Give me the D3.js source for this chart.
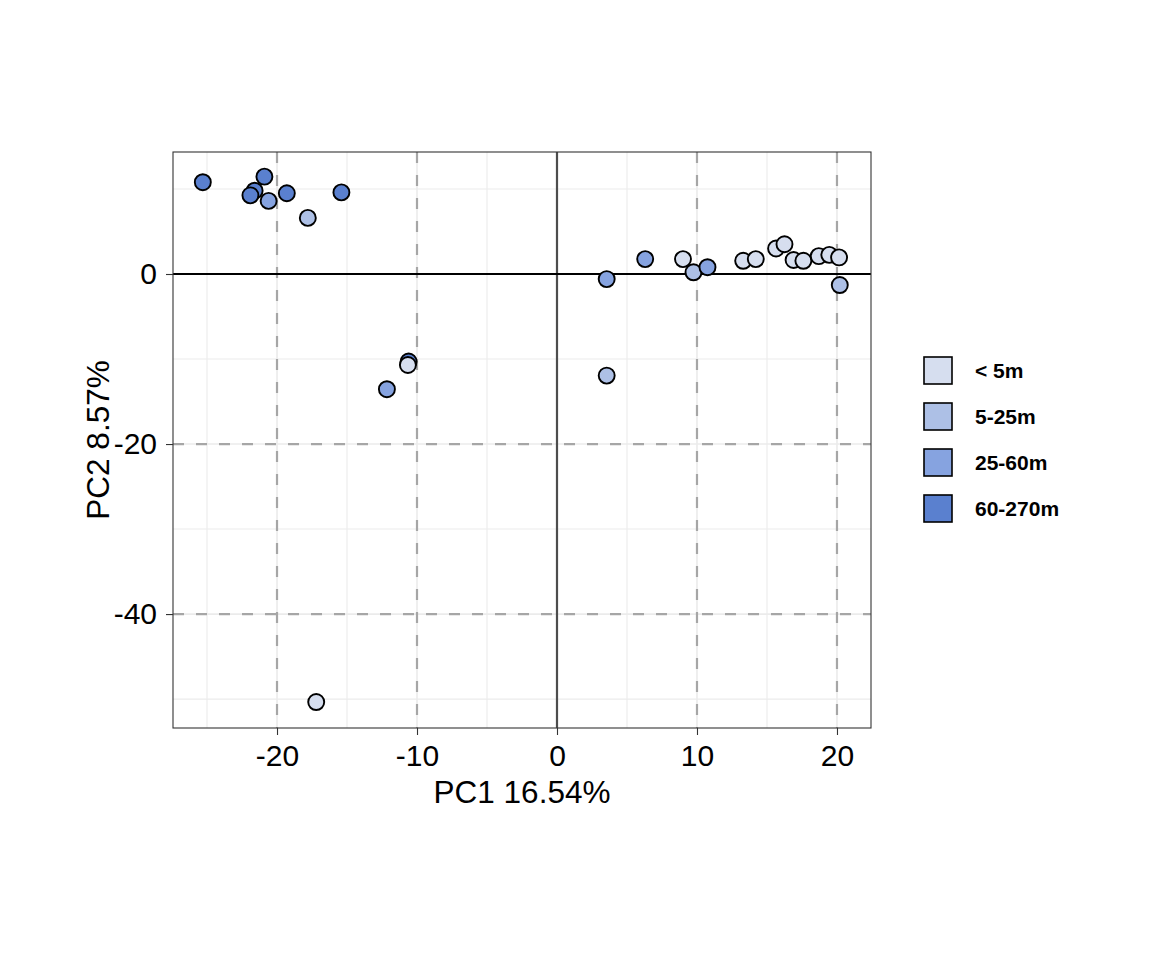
<!DOCTYPE html>
<html>
<head>
<meta charset="utf-8">
<script src="https://cdn.jsdelivr.net/npm/d3@7"></script>
<style>
  body { margin: 0; background: #fff; }
  svg { font-family: "Liberation Sans", Arial, sans-serif; }
</style>
</head>
<body>
<div id="chart"></div>
<script>
// data
const groups = ['< 5m', '5-25m', '25-60m', '60-270m'];
const groupColors = ['#d6deef', '#adc0e6', '#86a3e0', '#5a80cf'];

const pc1 = [-25.3, -20.9, -21.6, -21.9, -20.6, -19.3, -17.8, -15.4,
  3.55, 6.3, 9.0, 9.75, 10.75, 13.3, 14.2, 15.65, 16.25, 16.9, 17.6, 18.7, 19.45, 20.15, 20.2,
  -10.6, -10.65, -12.15, 3.55, -17.2];
const pc2 = [10.8, 11.45, 9.8, 9.25, 8.6, 9.5, 6.6, 9.6,
  -0.6, 1.75, 1.75, 0.2, 0.8, 1.55, 1.75, 3.0, 3.5, 1.65, 1.55, 2.1, 2.25, 1.95, -1.3,
  -10.3, -10.7, -13.55, -11.95, -50.35];
const depth = ['60-270m', '60-270m', '60-270m', '60-270m', '25-60m', '60-270m', '5-25m', '60-270m',
  '25-60m', '25-60m', '< 5m', '5-25m', '25-60m', '< 5m', '< 5m', '< 5m', '< 5m', '< 5m', '< 5m', '< 5m', '< 5m', '< 5m', '5-25m',
  '60-270m', '< 5m', '25-60m', '5-25m', '< 5m'];

const xMajor = [-20, -10, 0, 10, 20];
const xMinor = [-25, -15, -5, 5, 15];
const yMajor = [0, -20, -40];
const yMinor = [10, -10, -30, -50];

const option = {
  width: 1152,
  height: 960,
  margin: {top: 152, right: 281, bottom: 232, left: 173}
};

const svg = d3.select('#chart')
    .append('svg')
    .attr('width', option.width)
    .attr('height', option.height);

const x = d3.scaleLinear()
    .domain([-27.43, 22.43])
    .range([option.margin.left, option.width - option.margin.right]);

const y = d3.scaleLinear()
    .domain([-53.4, 14.35])
    .range([option.height - option.margin.bottom, option.margin.top]);

const color = d3.scaleOrdinal().domain(groups).range(groupColors);

const pLeft = option.margin.left;
const pRight = option.width - option.margin.right;
const pTop = option.margin.top;
const pBottom = option.height - option.margin.bottom;

// grid lines
const grid = svg.append('g');
grid.selectAll('.vx')
    .data(xMinor.concat(xMajor))
    .join('line')
    .attr('x1', (d) => x(d)).attr('x2', (d) => x(d))
    .attr('y1', pTop).attr('y2', pBottom)
    .attr('stroke', '#ebebeb')
    .attr('stroke-width', (d) => xMajor.includes(d) ? 1.6 : 1.1);
grid.selectAll('.hy')
    .data(yMinor.concat(yMajor))
    .join('line')
    .attr('x1', pLeft).attr('x2', pRight)
    .attr('y1', (d) => y(d)).attr('y2', (d) => y(d))
    .attr('stroke', '#ebebeb')
    .attr('stroke-width', (d) => yMajor.includes(d) ? 1.6 : 1.1);

// dashed reference lines
svg.append('g')
    .selectAll('line')
    .data(xMajor.filter((d) => d !== 0))
    .join('line')
    .attr('x1', (d) => x(d)).attr('x2', (d) => x(d))
    .attr('y1', pTop).attr('y2', pBottom)
    .attr('stroke', '#a6a6a6')
    .attr('stroke-width', 2.2)
    .attr('stroke-dasharray', '11,12');
svg.append('g')
    .selectAll('line')
    .data(yMajor.filter((d) => d !== 0))
    .join('line')
    .attr('x1', pLeft).attr('x2', pRight)
    .attr('y1', (d) => y(d)).attr('y2', (d) => y(d))
    .attr('stroke', '#a6a6a6')
    .attr('stroke-width', 2.2)
    .attr('stroke-dasharray', '11,12');

// zero lines
svg.append('line')
    .attr('x1', x(0)).attr('x2', x(0))
    .attr('y1', pTop).attr('y2', pBottom)
    .attr('stroke', '#4d4d4d')
    .attr('stroke-width', 2.2);
svg.append('line')
    .attr('x1', pLeft).attr('x2', pRight)
    .attr('y1', y(0)).attr('y2', y(0))
    .attr('stroke', '#000')
    .attr('stroke-width', 2.2);

// points
const pts = pc1.map((d, i) => ({x: d, y: pc2[i], g: depth[i]}));
svg.append('g')
    .selectAll('circle')
    .data(pts)
    .join('circle')
    .attr('cx', (d) => x(d.x))
    .attr('cy', (d) => y(d.y))
    .attr('r', 8)
    .attr('fill', (d) => color(d.g))
    .attr('stroke', '#000')
    .attr('stroke-width', 1.9);

// panel border
svg.append('rect')
    .attr('x', pLeft).attr('y', pTop)
    .attr('width', pRight - pLeft).attr('height', pBottom - pTop)
    .attr('fill', 'none')
    .attr('stroke', '#333')
    .attr('stroke-width', 1.1);

// axes
const fmt = (d) => String(d);
const xAxis = d3.axisBottom(x).tickValues(xMajor).tickFormat(fmt).tickSize(7).tickPadding(10);
const yAxis = d3.axisLeft(y).tickValues(yMajor).tickFormat(fmt).tickSize(7).tickPadding(9);

const gx = svg.append('g')
    .attr('transform', `translate(0,${pBottom})`)
    .call(xAxis);
const gy = svg.append('g')
    .attr('transform', `translate(${pLeft},0)`)
    .call(yAxis);

[gx, gy].forEach((g) => {
  g.select('.domain').remove();
  g.selectAll('.tick line').attr('stroke', '#333').attr('stroke-width', 1.1);
  g.selectAll('.tick text')
      .attr('fill', '#000')
      .attr('font-size', 30)
      .attr('font-family', '"Liberation Sans", Arial, sans-serif');
});

svg.append('text')
    .attr('text-anchor', 'middle')
    .attr('x', (pLeft + pRight) / 2)
    .attr('y', 803)
    .attr('font-size', 31.5)
    .text('PC1 16.54%');

svg.append('text')
    .attr('text-anchor', 'middle')
    .attr('transform', `translate(109,${(pTop + pBottom) / 2}) rotate(-90)`)
    .attr('font-size', 31.5)
    .text('PC2 8.57%');

// legend
const legend = svg.append('g')
    .attr('transform', 'translate(924,357)');
const item = legend.selectAll('g')
    .data(groups)
    .join('g')
    .attr('transform', (d, i) => `translate(0,${i * 46})`);
item.append('rect')
    .attr('width', 28).attr('height', 27)
    .attr('fill', (d) => color(d))
    .attr('stroke', '#000')
    .attr('stroke-width', 1.6);
item.append('text')
    .attr('x', 51)
    .attr('y', 14)
    .attr('dy', '0.35em')
    .attr('font-size', 21)
    .attr('font-weight', 'bold')
    .text((d) => d);
</script>
</body>
</html>
